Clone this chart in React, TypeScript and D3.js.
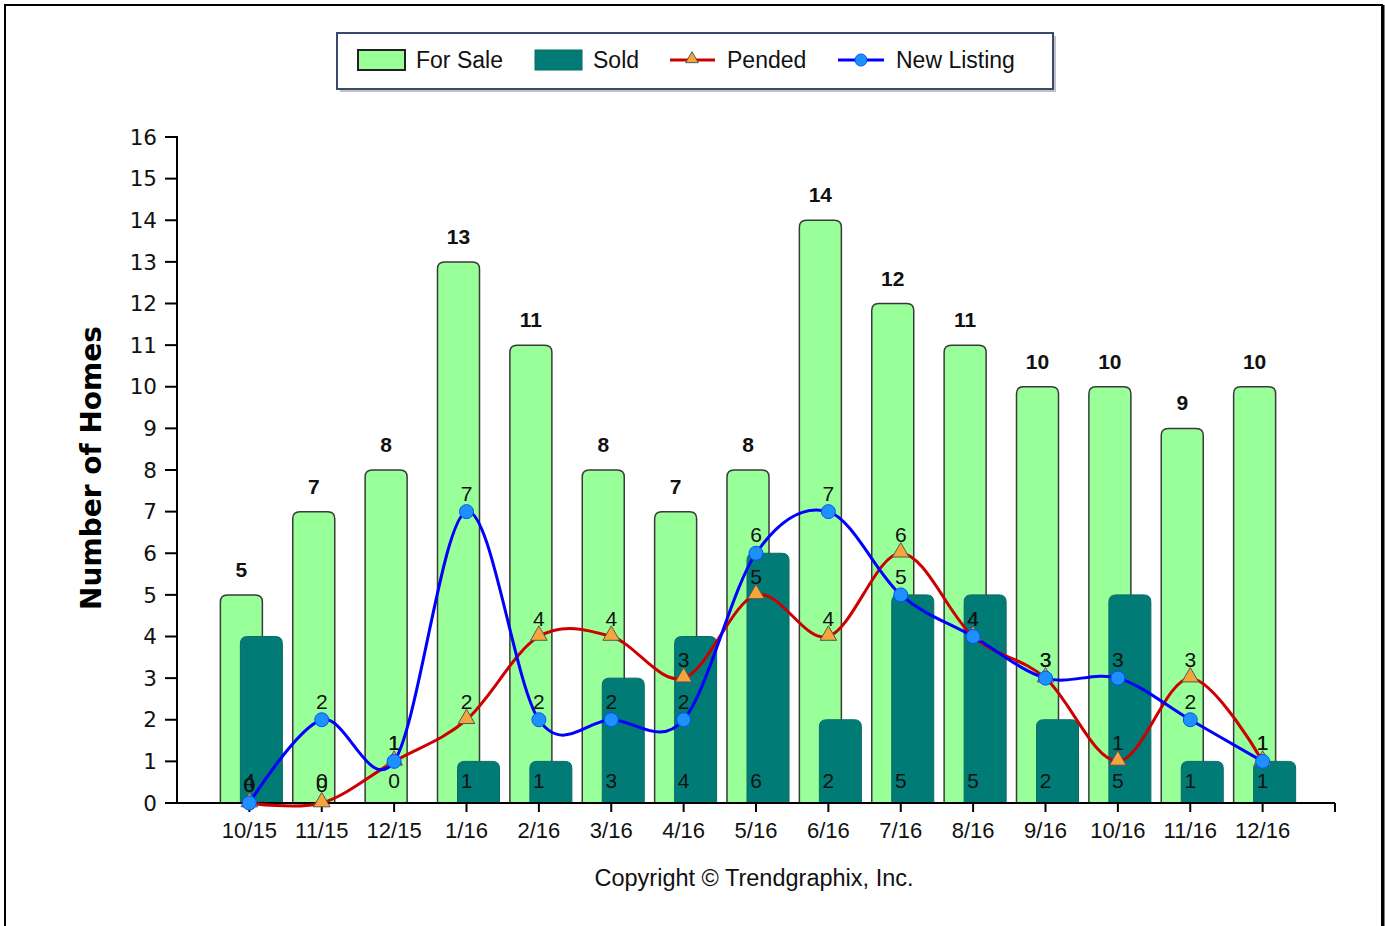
import React, { useRef, useEffect } from "react";
import * as d3 from "d3";

const months = ["10/15", "11/15", "12/15", "1/16", "2/16", "3/16", "4/16", "5/16", "6/16", "7/16", "8/16", "9/16", "10/16", "11/16", "12/16"];
const forSale = [5, 7, 8, 13, 11, 8, 7, 8, 14, 12, 11, 10, 10, 9, 10];
const sold = [4, 0, 0, 1, 1, 3, 4, 6, 2, 5, 5, 2, 5, 1, 1];
const pended = [0, 0, 1, 2, 4, 4, 3, 5, 4, 6, 4, 3, 1, 3, 1];
const newListing = [0, 2, 1, 7, 2, 2, 2, 6, 7, 5, 4, 3, 3, 2, 1];
const yTicks = d3.range(0, 17);

const W = 1385;
const H = 926;

// bar path with rounded top corners
function topRounded(x: number, y: number, w: number, h: number, r: number) {
  if (h <= 0) return "";
  const rr = Math.min(r, h, w / 2);
  return `M${x},${y + h}V${y + rr}Q${x},${y} ${x + rr},${y}H${x + w - rr}Q${x + w},${y} ${x + w},${y + rr}V${y + h}Z`;
}

const App: React.FC = () => {
  const svgRef = useRef<SVGSVGElement | null>(null);

  useEffect(() => {
    if (!svgRef.current) return;
    const svg = d3.select(svgRef.current);
    svg.selectAll("*").remove();

    const left = 177, right = 1335, top = 137, bottom = 803;

    const x = d3.scalePoint<string>().domain(months).range([left, right]).padding(1);
    const y = d3.scaleLinear().domain([0, 16]).range([bottom, top]);

    const sans = "'Liberation Sans', Arial, sans-serif";
    const dv = "'DejaVu Sans', Verdana, sans-serif";

    // outer frame
    svg.append("rect").attr("x", 5).attr("y", 5).attr("width", 1377).attr("height", 960)
      .attr("fill", "white").attr("stroke", "#000").attr("stroke-width", 2);
    svg.append("line").attr("x1", 1383).attr("x2", 1383).attr("y1", 5).attr("y2", H)
      .attr("stroke", "#000").attr("stroke-width", 3);

    // legend
    const lg = svg.append("g");
    lg.append("rect").attr("x", 340).attr("y", 36).attr("width", 716).attr("height", 56)
      .attr("fill", "#9a9a9a").attr("opacity", 0.6);
    lg.append("rect").attr("x", 337).attr("y", 33).attr("width", 716).attr("height", 56)
      .attr("fill", "white").attr("stroke", "#3a4a6e").attr("stroke-width", 2);
    lg.append("rect").attr("x", 358).attr("y", 50).attr("width", 47).attr("height", 20)
      .attr("fill", "#99ff99").attr("stroke", "#222").attr("stroke-width", 2);
    lg.append("text").attr("x", 416).attr("y", 68).text("For Sale");
    lg.append("rect").attr("x", 535).attr("y", 50).attr("width", 47).attr("height", 20)
      .attr("fill", "#007b76").attr("stroke", "#0a6a66").attr("stroke-width", 1);
    lg.append("text").attr("x", 593).attr("y", 68).text("Sold");
    lg.append("line").attr("x1", 670).attr("x2", 715).attr("y1", 60).attr("y2", 60)
      .attr("stroke", "#cc0000").attr("stroke-width", 3);
    lg.append("path").attr("d", d3.symbol(d3.symbolTriangle, 70)())
      .attr("transform", "translate(692,59)")
      .attr("fill", "#f5a53c").attr("stroke", "#555").attr("stroke-width", 1);
    lg.append("text").attr("x", 727).attr("y", 68).text("Pended");
    lg.append("line").attr("x1", 838).attr("x2", 884).attr("y1", 60).attr("y2", 60)
      .attr("stroke", "#0000ff").attr("stroke-width", 3);
    lg.append("circle").attr("cx", 861).attr("cy", 60).attr("r", 6)
      .attr("fill", "#1e90ff").attr("stroke", "#0050ff").attr("stroke-width", 1);
    lg.append("text").attr("x", 896).attr("y", 68).text("New Listing");
    lg.selectAll("text").attr("font-family", sans).attr("font-size", 23).attr("fill", "#111");

    // bars: for sale
    const bw = 42;
    svg.append("g").selectAll("path").data(forSale).join("path")
      .attr("d", (d, i) => topRounded(x(months[i])! - 29, y(d), bw, y(0) - y(d), 7))
      .attr("fill", "#99ff99").attr("stroke", "#3a3a3a").attr("stroke-width", 1.5);

    // bars: sold
    svg.append("g").selectAll("path").data(sold).join("path")
      .attr("d", (d, i) => topRounded(x(months[i])! - 9, y(d), bw, y(0) - y(d), 7))
      .attr("fill", "#007b76").attr("stroke", "#0a6a66").attr("stroke-width", 1);

    // axes
    const ax = svg.append("g").attr("stroke", "#000").attr("stroke-width", 2);
    ax.append("line").attr("x1", left).attr("x2", left).attr("y1", top - 1).attr("y2", bottom + 1);
    ax.append("line").attr("x1", left).attr("x2", right).attr("y1", bottom).attr("y2", bottom);
    ax.selectAll("line.yt").data(yTicks).join("line").attr("class", "yt")
      .attr("x1", left - 12).attr("x2", left).attr("y1", (d) => y(d)).attr("y2", (d) => y(d));
    ax.selectAll("line.xt").data(months).join("line").attr("class", "xt")
      .attr("x1", (d) => x(d)!).attr("x2", (d) => x(d)!).attr("y1", bottom).attr("y2", bottom + 9);
    ax.append("line").attr("x1", right).attr("x2", right).attr("y1", bottom).attr("y2", bottom + 9);

    svg.append("g").selectAll("text").data(yTicks).join("text")
      .attr("x", left - 20).attr("y", (d) => y(d)).attr("dy", "0.36em")
      .attr("text-anchor", "end").attr("font-family", dv).attr("font-size", 21.5).attr("fill", "#111")
      .text((d) => d);

    svg.append("g").selectAll("text").data(months).join("text")
      .attr("x", (d) => x(d)!).attr("y", 838)
      .attr("text-anchor", "middle").attr("font-family", sans).attr("font-size", 22).attr("fill", "#111")
      .text((d) => d);

    svg.append("text")
      .attr("transform", `translate(101,${(top + bottom) / 2 - 2}) rotate(-90)`)
      .attr("text-anchor", "middle").attr("font-family", dv).attr("font-weight", "bold")
      .attr("font-size", 28).attr("fill", "#000").text("Number of Homes");

    svg.append("text").attr("x", 754).attr("y", 886).attr("text-anchor", "middle")
      .attr("font-family", sans).attr("font-size", 23.5).attr("fill", "#111")
      .text("Copyright \u00a9 Trendgraphix, Inc.");

    // lines
    const line = d3.line<number>()
      .x((_, i) => x(months[i])!)
      .y((d) => y(d))
      .curve(d3.curveCardinal.tension(0));

    svg.append("path").datum(pended).attr("d", line)
      .attr("fill", "none").attr("stroke", "#cc0000").attr("stroke-width", 3);
    svg.append("path").datum(newListing).attr("d", line)
      .attr("fill", "none").attr("stroke", "#0000ff").attr("stroke-width", 3);

    svg.append("g").selectAll("path").data(pended).join("path")
      .attr("d", d3.symbol(d3.symbolTriangle, 120)())
      .attr("transform", (d, i) => `translate(${x(months[i])},${y(d) - 1})`)
      .attr("fill", "#f5a53c").attr("stroke", "#555").attr("stroke-width", 1);
    svg.append("g").selectAll("circle").data(newListing).join("circle")
      .attr("cx", (_, i) => x(months[i])!).attr("cy", (d) => y(d)).attr("r", 7)
      .attr("fill", "#1e90ff").attr("stroke", "#0050ff").attr("stroke-width", 1);

    // value labels
    svg.append("g").selectAll("text").data(forSale).join("text")
      .attr("x", (_, i) => x(months[i])! - 8).attr("y", (d) => y(d) - 18)
      .attr("text-anchor", "middle").attr("font-family", sans).attr("font-weight", "bold")
      .attr("font-size", 21).attr("fill", "#111").text((d) => d);

    svg.append("g").selectAll("text").data(sold).join("text")
      .attr("x", (_, i) => x(months[i])!).attr("y", 788)
      .attr("text-anchor", "middle").attr("font-family", sans)
      .attr("font-size", 21).attr("fill", "#111").text((d) => d);

    svg.append("g").selectAll("text").data(pended).join("text")
      .attr("x", (_, i) => x(months[i])!).attr("y", (d) => y(d) - 11)
      .attr("text-anchor", "middle").attr("font-family", sans)
      .attr("font-size", 21).attr("fill", "#111").text((d) => d);

    svg.append("g").selectAll("text").data(newListing).join("text")
      .attr("x", (_, i) => x(months[i])!).attr("y", (d) => y(d) - 11)
      .attr("text-anchor", "middle").attr("font-family", sans)
      .attr("font-size", 21).attr("fill", "#111").text((d) => d);
  }, []);

  return (
    <svg
      ref={svgRef}
      width={W}
      height={H}
      style={{ position: "absolute", left: 0, top: 0, display: "block" }}
    />
  );
};

export default App;
